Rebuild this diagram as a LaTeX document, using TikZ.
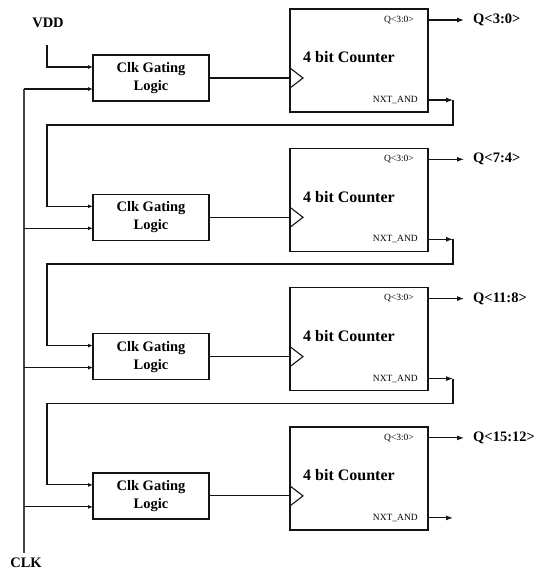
\documentclass[tikz,border=0pt]{standalone}
\usepackage{fontspec}
\setmainfont{Liberation Serif}
\usepackage{xcolor}
\usepackage{tikz}
\usetikzlibrary{arrows.meta, positioning, calc}
\definecolor{wire}{RGB}{20, 20, 20}
\definecolor{clkwire}{RGB}{70, 70, 70}
\tikzset{
  baseblock/.style={
    rectangle, draw=wire, line width=1.5pt, fill=white,
    outer sep=0pt, inner sep=0pt, align=center
  },
  gateblock/.style={baseblock, minimum width=116pt, minimum height=46pt,
    font=\fontsize{14.5}{18}\selectfont\bfseries},
  counterblock/.style={baseblock, minimum width=138pt, minimum height=103pt},
  counterlabel/.style={inner sep=0pt, font=\fontsize{16}{18}\selectfont\bfseries},
  pinlabel/.style={inner sep=0pt, font=\fontsize{9.5}{11}\selectfont},
  siglabel/.style={inner sep=0pt, font=\fontsize{14.5}{16}\selectfont\bfseries},
  wireline/.style={draw=wire, line width=1.1pt},
  clkline/.style={draw=clkwire, line width=1.6pt},
  inline/.style={draw=wire, line width=1.1pt, -{Latex[length=5pt, width=4pt]}},
  flowline/.style={draw=wire, line width=1.1pt, -{Latex[length=7pt, width=5pt]}}
}
\begin{document}
\begin{tikzpicture}[x=1pt, y=-1pt, node distance=93.3pt and 81pt]
  \useasboundingbox (0,0) rectangle (538,573);

  % gating blocks
  \node[gateblock] (g1) at (151,78) {Clk Gating\\Logic};
  \node[gateblock, below=of g1] (g2) {Clk Gating\\Logic};
  \node[gateblock, below=of g2] (g3) {Clk Gating\\Logic};
  \node[gateblock, below=of g3] (g4) {Clk Gating\\Logic};

  % counters
  \node[counterblock] (c1) at (359,60.5) {};
  \node[counterblock, below=36.3pt of c1] (c2) {};
  \node[counterblock, below=36.3pt of c2] (c3) {};
  \node[counterblock, below=36.3pt of c3] (c4) {};

  \node[counterlabel, anchor=west] (t1) at ([xshift=13pt,yshift=3pt]c1.west) {4 bit Counter};
  \node[counterlabel, anchor=west] (t2) at ([xshift=13pt,yshift=3pt]c2.west) {4 bit Counter};
  \node[counterlabel, anchor=west] (t3) at ([xshift=13pt,yshift=3pt]c3.west) {4 bit Counter};
  \node[counterlabel, anchor=west] (t4) at ([xshift=13pt,yshift=3pt]c4.west) {4 bit Counter};

  % clock triangles
  \draw[wireline] ([yshift=-7.5pt]c1.west) -- ++(13,10) -- ++(-13,10);
  \draw[wireline] ([yshift=-7.5pt]c2.west) -- ++(13,10) -- ++(-13,10);
  \draw[wireline] ([yshift=-7.5pt]c3.west) -- ++(13,10) -- ++(-13,10);
  \draw[wireline] ([yshift=-7.5pt]c4.west) -- ++(13,10) -- ++(-13,10);

  % pin labels
  \node[pinlabel, anchor=east] (qp1) at ([xshift=-14pt,yshift=-11pt]c1.north east) {Q<3:0>};
  \node[pinlabel, anchor=east] (qp2) at ([xshift=-14pt,yshift=-11pt]c2.north east) {Q<3:0>};
  \node[pinlabel, anchor=east] (qp3) at ([xshift=-14pt,yshift=-11pt]c3.north east) {Q<3:0>};
  \node[pinlabel, anchor=east] (qp4) at ([xshift=-14pt,yshift=-11pt]c4.north east) {Q<3:0>};
  \node[pinlabel, anchor=east] (np1) at ([xshift=-10pt,yshift=12pt]c1.south east) {NXT\_AND};
  \node[pinlabel, anchor=east] (np2) at ([xshift=-10pt,yshift=12pt]c2.south east) {NXT\_AND};
  \node[pinlabel, anchor=east] (np3) at ([xshift=-10pt,yshift=12pt]c3.south east) {NXT\_AND};
  \node[pinlabel, anchor=east] (np4) at ([xshift=-10pt,yshift=12pt]c4.south east) {NXT\_AND};

  % outputs
  \node[siglabel, anchor=west] (q1) at ([xshift=45pt,yshift=-11pt]c1.north east) {Q<3:0>};
  \node[siglabel, anchor=west] (q2) at ([xshift=45pt,yshift=-11pt]c2.north east) {Q<7:4>};
  \node[siglabel, anchor=west] (q3) at ([xshift=45pt,yshift=-11pt]c3.north east) {Q<11:8>};
  \node[siglabel, anchor=west] (q4) at ([xshift=45pt,yshift=-11pt]c4.north east) {Q<15:12>};

  \draw[flowline, shorten >=9pt] (q1.west -| c1.east) -- (q1.west);
  \draw[flowline, shorten >=9pt] (q2.west -| c2.east) -- (q2.west);
  \draw[flowline, shorten >=9pt] (q3.west -| c3.east) -- (q3.west);
  \draw[flowline, shorten >=9pt] (q4.west -| c4.east) -- (q4.west);

  % signal pins
  \node[siglabel] (vdd) at (48,23) {VDD};
  \node[siglabel] (clk) at (26,563) {CLK};
  \coordinate (vddpin) at (47,45);
  \coordinate (clktop) at (24,89);
  \coordinate (clkbot) at (24,553);

  % gating inputs
  \coordinate (g1en) at ([yshift=11pt]g1.west);
  \coordinate (g2en) at ([yshift=11pt]g2.west);
  \coordinate (g3en) at ([yshift=11pt]g3.west);
  \coordinate (g4en) at ([yshift=11pt]g4.west);
  \coordinate (g1ck) at ([yshift=-11pt]g1.west);
  \coordinate (g2ck) at ([yshift=-11pt]g2.west);
  \coordinate (g3ck) at ([yshift=-11pt]g3.west);
  \coordinate (g4ck) at ([yshift=-11pt]g4.west);

  \draw[clkline] (clktop) -- (clkbot);
  \draw[inline] (clktop) -- (g1ck);
  \draw[inline] (clktop |- g2ck) -- (g2ck);
  \draw[inline] (clktop |- g3ck) -- (g3ck);
  \draw[inline] (clktop |- g4ck) -- (g4ck);
  \draw[inline] (vddpin) |- (g1en);

  % gated clocks
  \draw[wireline] (g1.east) -- (g1.east -| c1.west);
  \draw[wireline] (g2.east) -- (g2.east -| c2.west);
  \draw[wireline] (g3.east) -- (g3.east -| c3.west);
  \draw[wireline] (g4.east) -- (g4.east -| c4.west);

  % carry chain
  \coordinate (n1) at ([xshift=25pt,yshift=12pt]c1.south east);
  \coordinate (n2) at ([xshift=25pt,yshift=12pt]c2.south east);
  \coordinate (n3) at ([xshift=25pt,yshift=12pt]c3.south east);
  \coordinate (n4) at ([xshift=25pt,yshift=12pt]c4.south east);
  \coordinate (fb1) at (47,125);
  \coordinate (fb2) at (47,264);
  \coordinate (fb3) at (47,403.5);

  \draw[flowline] (n1 -| c1.east) -- (n1);
  \draw[flowline] (n2 -| c2.east) -- (n2);
  \draw[flowline] (n3 -| c3.east) -- (n3);
  \draw[flowline] (n4 -| c4.east) -- (n4);

  \draw[inline] (n1) |- (fb1) |- (g2en);
  \draw[inline] (n2) |- (fb2) |- (g3en);
  \draw[inline] (n3) |- (fb3) |- (g4en);
\end{tikzpicture}
\end{document}
